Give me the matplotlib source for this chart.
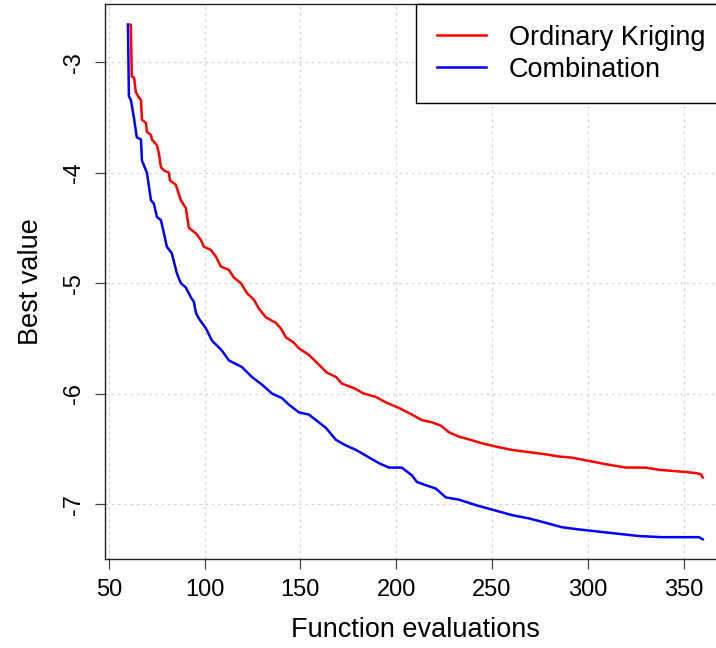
import matplotlib
matplotlib.use("Agg")
import matplotlib.pyplot as plt

plt.rcParams["font.family"] = ["Liberation Sans", "DejaVu Sans"]

# ---- Best value vs. function evaluations ----
ok_x = [60, 61.5, 62, 63.2, 64.1, 65.7, 66.8, 67.3, 69.4, 69.9, 72.0, 72.5, 75.1, 76.1,
        77.2, 78.8, 81.4, 81.9, 85.0, 87.6, 90.2, 91.8, 95.5, 98.1, 99.6, 103.3, 105.9,
        108.5, 112.7, 115.3, 118.9, 122.1, 125.7, 128.3, 132.0, 137.2, 139.8, 142.4,
        146.6, 149.2, 154.4, 158.6, 163.8, 168.6, 171.7, 177.9, 183.1, 189.4, 194.6,
        201.4, 208.2, 213.4, 218.6, 223.3, 227.5, 232.7, 239.0, 244.7, 252.0, 260.4,
        269.2, 278.1, 284.9, 291.7, 300.6, 309.5, 319.9, 330.3, 337.1, 343.9, 351.2,
        356.4, 359.0, 360]
ok_y = [-2.66, -2.66, -3.13, -3.14, -3.27, -3.32, -3.34, -3.52, -3.55, -3.63, -3.66,
        -3.70, -3.75, -3.82, -3.95, -3.98, -4.00, -4.07, -4.11, -4.25, -4.32, -4.50,
        -4.55, -4.61, -4.67, -4.70, -4.76, -4.85, -4.88, -4.95, -5.00, -5.09, -5.15,
        -5.23, -5.31, -5.36, -5.41, -5.49, -5.54, -5.59, -5.65, -5.72, -5.81, -5.85,
        -5.91, -5.95, -6.00, -6.03, -6.08, -6.13, -6.19, -6.24, -6.26, -6.29, -6.35,
        -6.39, -6.42, -6.45, -6.48, -6.51, -6.53, -6.55, -6.57, -6.58, -6.61, -6.64,
        -6.67, -6.67, -6.69, -6.70, -6.71, -6.72, -6.73, -6.76]

comb_x = [60, 60.5, 61.5, 63.1, 64.6, 66.8, 67.3, 69.9, 72.0, 73.5, 75.1, 77.2, 78.8,
          80.3, 82.9, 85.5, 87.6, 90.2, 92.9, 94.4, 95.5, 97.0, 100.7, 103.8, 109.0,
          112.7, 119.5, 124.7, 130.0, 135.2, 140.3, 144.0, 149.2, 154.4, 158.1, 163.3,
          168.6, 173.8, 179.0, 191.0, 196.2, 202.9, 208.2, 210.8, 215.5, 220.7, 225.9,
          232.7, 241.6, 249.9, 260.4, 269.2, 278.1, 286.5, 295.3, 305.8, 316.2, 326.7,
          338.7, 351.2, 358.0, 360]
comb_y = [-2.66, -3.31, -3.34, -3.50, -3.68, -3.70, -3.89, -4.00, -4.25, -4.28, -4.40,
          -4.43, -4.55, -4.67, -4.73, -4.91, -5.00, -5.04, -5.13, -5.17, -5.27, -5.32,
          -5.41, -5.52, -5.61, -5.70, -5.76, -5.85, -5.92, -6.00, -6.04, -6.10, -6.17,
          -6.19, -6.24, -6.31, -6.42, -6.47, -6.51, -6.63, -6.67, -6.67, -6.74, -6.80,
          -6.83, -6.86, -6.94, -6.96, -7.01, -7.05, -7.10, -7.13, -7.17, -7.21, -7.23,
          -7.25, -7.27, -7.29, -7.30, -7.30, -7.30, -7.32]

X_TICKS = [50, 100, 150, 200, 250, 300, 350]
Y_TICKS = [-3, -4, -5, -6, -7]
FS = 19.5       # legend / axis titles
FS_TICK = 17.0  # tick labels

fig = plt.figure(figsize=(7.16, 6.48), dpi=100)
ax = fig.add_axes([0.1466, 0.1373, 0.867, 0.8565])

ax.plot(ok_x, ok_y, color="red", linewidth=1.8, label="Ordinary Kriging")
ax.plot(comb_x, comb_y, color="blue", linewidth=1.8, label="Combination")

# R-style 4% padding around the data
ax.set_xlim(48, 372)
ax.set_ylim(-7.498, -2.473)
ax.set_xticks(X_TICKS)
ax.set_yticks(Y_TICKS)
ax.set_yticklabels([str(v) for v in Y_TICKS], rotation=90, va="center")

ax.grid(True, color="#d3d3d3", linestyle=(0, (2, 3)), linewidth=0.9)
ax.set_axisbelow(True)
for sp in ax.spines.values():
    sp.set_color("#222222")
    sp.set_linewidth(1.0)
ax.tick_params(direction="out", length=7.2, width=0.9, color="#444444",
               labelsize=FS_TICK, pad=7)

ax.set_xlabel("Function evaluations", fontsize=FS, labelpad=11.5)
ax.set_ylabel("Best value", fontsize=FS, labelpad=14)

leg = ax.legend(loc="upper right", bbox_to_anchor=(1.0, 1.0), borderaxespad=0,
                fontsize=FS, handlelength=1.8, handletextpad=0.85,
                labelspacing=0.22, borderpad=0.76, fancybox=False, framealpha=1)
leg.get_frame().set_edgecolor("black")
leg.get_frame().set_linewidth(1.0)

fig.savefig("out.png", dpi=100)
